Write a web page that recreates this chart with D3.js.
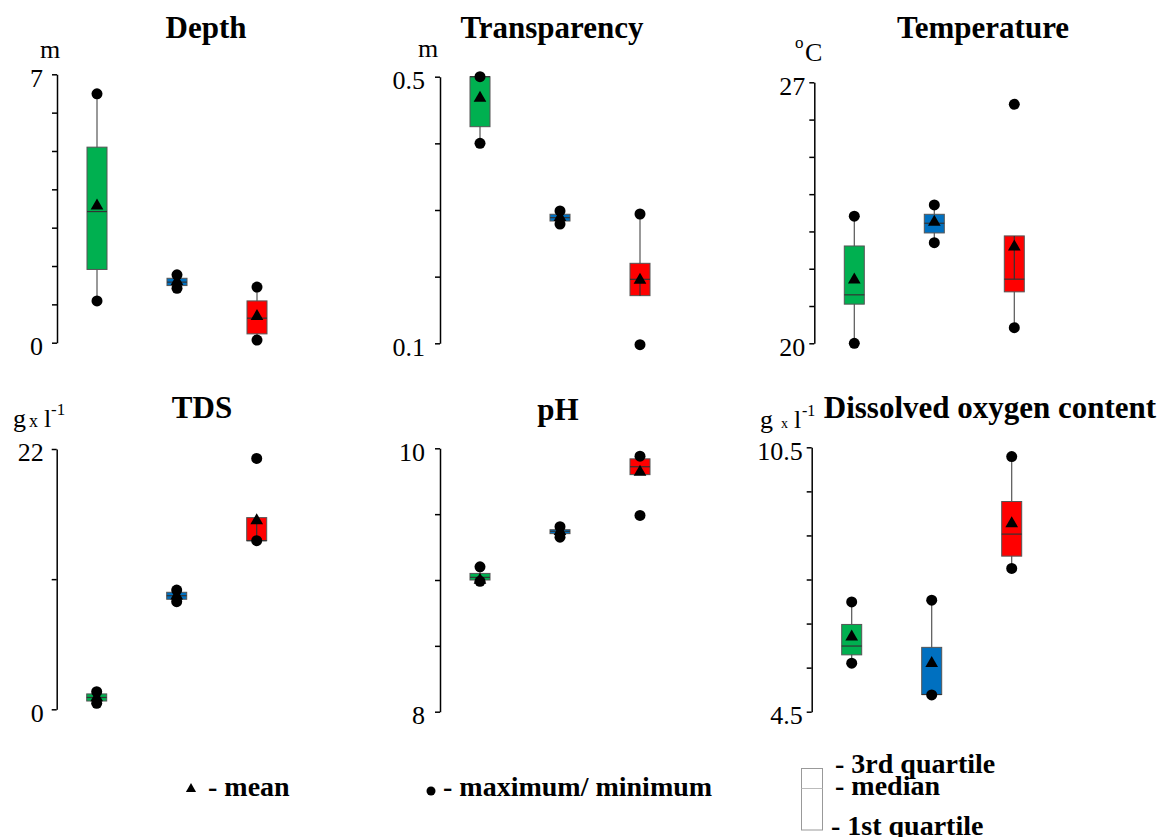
<!DOCTYPE html>
<meta charset="utf-8">
<style>
body { margin: 0; background: #fff; }
svg { display: block; }
.axis path, .axis line { stroke: #000; stroke-width: 1.5; }
.axis text { font: 26px "Liberation Serif", serif; fill: #000; }
.title { font: bold 31px "Liberation Serif", serif; text-anchor: middle; }
.unit { font-family: "Liberation Serif", serif; }
.legend { font: bold 28px "Liberation Serif", serif; }
</style>
<svg width="1165" height="837"></svg>

<script src="https://d3js.org/d3.v7.min.js"></script>
<script>
var groups = ["I", "II", "III"];
var groupColors = ["#00b050", "#0070c0", "#ff0000"];

// each row: [min, q1, median, q3, max, mean]
var depth = [[1.09, 1.91, 3.42, 5.10, 6.49, 3.57], [1.42, 1.49, 1.58, 1.68, 1.77, 1.60], [0.07, 0.23, 0.64, 1.09, 1.45, 0.69]];
var transparency = [[0.40, 0.425, 0.50, 0.50, 0.50, 0.468], [0.279, 0.2835, 0.2885, 0.2936, 0.2986, 0.289], [0.098, 0.1715, 0.196, 0.22, 0.294, 0.195]];
var temperature = [[20.0, 21.05, 21.3, 22.61, 23.41, 21.7], [22.7, 22.96, 23.22, 23.46, 23.71, 23.25], [20.42, 21.38, 21.72, 22.88, 26.41, 22.59]];
var tds = [[0.51, 0.7, 1.0, 1.3, 1.49, 1.0], [9.1, 9.3, 9.6, 9.89, 10.08, 9.6], [14.25, 14.25, 14.25, 16.2, 21.2, 15.95]];
var ph = [[8.99, 9.0, 9.02, 9.05, 9.10, 9.0], [9.325, 9.352, 9.37, 9.382, 9.405, 9.37], [9.49, 9.80, 9.86, 9.92, 9.94, 9.82]];
var oxygen = [[5.6, 5.79, 5.99, 6.48, 6.99, 6.2], [4.88, 4.89, 4.89, 5.96, 7.03, 5.6], [7.75, 8.03, 8.53, 9.27, 10.29, 8.77]];

// min / max points that have no whisker drawn to them
var detached = [["Transparency", 2, "min"], ["Temperature", 2, "max"], ["TDS", 2, "max"], ["pH", 2, "min"]];
// vertical line drawn inside some boxes [from, to]
var innerLines = [["Transparency", 2, 0.196, 0.1715], ["Temperature", 2, 22.88, 21.72], ["TDS", 2, 16.2, 14.25]];

var panels = [
  {title: "Depth", data: depth, domain: [0, 7], step: 1, labels: ["0", "7"],
   axisX: 57, top: 74.3, bottom: 342.7, tx: 206, ty: 38, gap: 14},
  {title: "Transparency", data: transparency, domain: [0.1, 0.5], step: 0.1, labels: ["0.1", "0.5"],
   axisX: 440, top: 76.7, bottom: 343.3, tx: 552, ty: 38, gap: 15},
  {title: "Temperature", data: temperature, domain: [20, 27], step: 1, labels: ["20", "27"],
   axisX: 814.3, top: 82.3, bottom: 343.3, tx: 983, ty: 38, gap: 9},
  {title: "TDS", data: tds, domain: [0, 22], step: 11, labels: ["0", "22"],
   axisX: 56.7, top: 449, bottom: 709.3, tx: 202, ty: 418, gap: 13},
  {title: "pH", data: ph, domain: [8, 10], step: 0.5, labels: ["8", "10"],
   axisX: 440, top: 448.3, bottom: 711.7, tx: 558, ty: 420, gap: 15},
  {title: "Dissolved oxygen content", data: oxygen, domain: [4.5, 10.5], step: 1, labels: ["4.5", "10.5"],
   axisX: 811.7, top: 447.3, bottom: 711.7, tx: 990, ty: 418, gap: 9}
];

var svg = d3.select("svg");
var boxW = 20;

panels.forEach(function(p) {
  var g = svg.append("g");
  var y = d3.scaleLinear().domain(p.domain).range([p.bottom, p.top]);
  var x = d3.scalePoint().domain(groups).range([p.axisX + 40, p.axisX + 200]);
  var ticks = d3.range(p.domain[0], p.domain[1] + p.step / 2, p.step);

  g.append("g")
    .attr("class", "axis")
    .attr("transform", "translate(" + p.axisX + ",0)")
    .call(d3.axisLeft(y).tickValues(ticks).tickSizeInner(5).tickSizeOuter(0)
      .tickPadding(p.gap - 5)
      .tickFormat(function(d, i) {
        if (i === 0) return p.labels[0];
        if (i === ticks.length - 1) return p.labels[1];
        return "";
      }))
    .selectAll("text").attr("dy", "0.45em");

  g.append("text").attr("class", "title")
    .attr("x", p.tx).attr("y", p.ty).text(p.title);

  var rows = p.data.map(function(d, i) {
    var r = {g: groups[i], i: i, min: d[0], q1: d[1], med: d[2], q3: d[3], max: d[4], mean: d[5]};
    r.lo = r.min; r.hi = r.max;
    detached.forEach(function(o) {
      if (o[0] === p.title && o[1] === i) { if (o[2] === "min") r.lo = r.q1; else r.hi = r.q3; }
    });
    return r;
  });

  // whiskers
  g.selectAll(".whisker").data(rows).enter().append("line")
    .attr("x1", function(d) { return x(d.g); }).attr("x2", function(d) { return x(d.g); })
    .attr("y1", function(d) { return y(d.lo); }).attr("y2", function(d) { return y(d.hi); })
    .attr("stroke", "#555").attr("stroke-width", 1.2);

  g.selectAll(".box").data(rows).enter().append("rect")
    .attr("x", function(d) { return x(d.g) - boxW / 2; })
    .attr("y", function(d) { return y(d.q3); })
    .attr("width", boxW)
    .attr("height", function(d) { return Math.max(1, y(d.q1) - y(d.q3)); })
    .attr("fill", function(d) { return groupColors[d.i]; })
    .attr("stroke", "#555").attr("stroke-width", 1);

  g.selectAll(".median").data(rows).enter().append("line")
    .attr("x1", function(d) { return x(d.g) - boxW / 2; })
    .attr("x2", function(d) { return x(d.g) + boxW / 2; })
    .attr("y1", function(d) { return y(d.med); }).attr("y2", function(d) { return y(d.med); })
    .attr("stroke", "#333").attr("stroke-width", 1.2);

  innerLines.filter(function(l) { return l[0] === p.title; }).forEach(function(l) {
    g.append("line")
      .attr("x1", x(groups[l[1]])).attr("x2", x(groups[l[1]]))
      .attr("y1", y(l[2])).attr("y2", y(l[3]))
      .attr("stroke", "#333").attr("stroke-width", 1.2);
  });

  g.selectAll(".mean").data(rows).enter().append("path")
    .attr("d", d3.symbol().type(d3.symbolTriangle).size(70))
    .attr("transform", function(d) { return "translate(" + x(d.g) + "," + y(d.mean) + ")"; })
    .attr("fill", "#000");

  var pts = [];
  rows.forEach(function(d) { pts.push({g: d.g, v: d.min}); pts.push({g: d.g, v: d.max}); });
  g.selectAll(".pt").data(pts).enter().append("circle")
    .attr("cx", function(d) { return x(d.g); })
    .attr("cy", function(d) { return y(d.v); })
    .attr("r", 5.5).attr("fill", "#000");
});

// units
function unit(yb, parts) {
  var t = svg.append("text").attr("class", "unit").attr("y", yb);
  parts.forEach(function(s) {
    t.append("tspan").attr("x", s[1]).attr("y", yb + (s[3] || 0))
      .attr("font-size", s[2]).text(s[0]);
  });
}
unit(58, [["m", 40, 26]]);
unit(57, [["m", 418, 26]]);
unit(61, [["o", 795, 17, -13], ["C", 805, 26]]);
unit(427, [["g", 13, 26], ["x", 29, 18], ["l", 44, 26], ["-1", 51, 17, -12]]);
unit(428, [["g", 760, 26], ["x", 781, 14], ["l", 794, 26], ["-1", 802, 16, -12]]);

// legend
svg.append("path").attr("d", d3.symbol().type(d3.symbolTriangle).size(45))
  .attr("transform", "translate(191,789)").attr("fill", "#000");
svg.append("text").attr("class", "legend").attr("x", 208).attr("y", 796).text("- mean");
svg.append("circle").attr("cx", 431).attr("cy", 791).attr("r", 4.5).attr("fill", "#000");
svg.append("text").attr("class", "legend").attr("x", 443).attr("y", 796).text("- maximum/ minimum");

svg.append("rect").attr("x", 801.5).attr("y", 768.5).attr("width", 21).attr("height", 61.5)
  .attr("fill", "none").attr("stroke", "#999").attr("stroke-width", 1);
svg.append("line").attr("x1", 801.5).attr("x2", 822.5).attr("y1", 788.5).attr("y2", 788.5)
  .attr("stroke", "#bbb").attr("stroke-width", 1);
svg.append("text").attr("class", "legend").attr("x", 835).attr("y", 773).text("- 3rd quartile");
svg.append("text").attr("class", "legend").attr("x", 835).attr("y", 795).text("- median");
svg.append("text").attr("class", "legend").attr("x", 831).attr("y", 835).text("- 1st quartile");
</script>
